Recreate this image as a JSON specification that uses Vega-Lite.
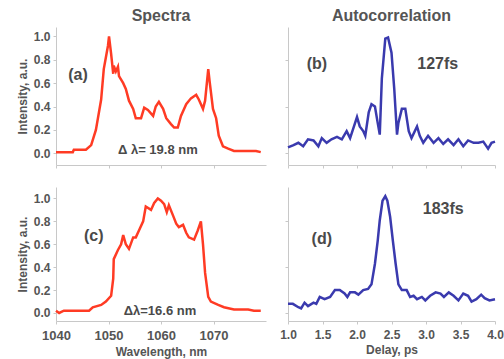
{
  "$schema": "https://vega.github.io/schema/vega-lite/v6.json",
  "background": "white",
  "padding": {"left": 16, "top": 8, "right": 0, "bottom": 2},
  "datasets": {
    "a": [
      {"w":1040.0,"i":0.01},{"w":1043.2,"i":0.01},{"w":1043.4,"i":0.03},{"w":1045.7,"i":0.03},{"w":1046.7,"i":0.07},{"w":1047.6,"i":0.2},{"w":1048.6,"i":0.46},{"w":1049.1,"i":0.72},{"w":1049.9,"i":0.92},{"w":1050.1,"i":1.0},{"w":1050.5,"i":0.85},{"w":1050.9,"i":0.68},{"w":1051.0,"i":0.75},{"w":1051.4,"i":0.70},{"w":1051.8,"i":0.74},{"w":1052.0,"i":0.66},{"w":1052.8,"i":0.60},{"w":1053.3,"i":0.55},{"w":1053.9,"i":0.45},{"w":1054.7,"i":0.38},{"w":1055.2,"i":0.30},{"w":1056.2,"i":0.30},{"w":1056.8,"i":0.39},{"w":1057.5,"i":0.37},{"w":1058.5,"i":0.32},{"w":1059.0,"i":0.40},{"w":1059.6,"i":0.44},{"w":1060.4,"i":0.38},{"w":1061.0,"i":0.30},{"w":1061.9,"i":0.25},{"w":1062.5,"i":0.22},{"w":1063.2,"i":0.22},{"w":1063.8,"i":0.32},{"w":1064.8,"i":0.42},{"w":1065.7,"i":0.47},{"w":1066.7,"i":0.50},{"w":1067.2,"i":0.46},{"w":1068.0,"i":0.38},{"w":1068.4,"i":0.45},{"w":1069.0,"i":0.72},{"w":1069.3,"i":0.60},{"w":1069.9,"i":0.38},{"w":1070.5,"i":0.30},{"w":1071.0,"i":0.15},{"w":1071.8,"i":0.06},{"w":1072.8,"i":0.04},{"w":1073.9,"i":0.02},{"w":1078.1,"i":0.02},{"w":1079.0,"i":0.01}
    ],
    "c": [
      {"w":1040.0,"i":0.02},{"w":1040.6,"i":0.0},{"w":1041.5,"i":0.02},{"w":1046.3,"i":0.02},{"w":1047.0,"i":0.05},{"w":1048.6,"i":0.07},{"w":1049.5,"i":0.10},{"w":1050.5,"i":0.15},{"w":1050.9,"i":0.3},{"w":1051.0,"i":0.47},{"w":1051.8,"i":0.55},{"w":1052.4,"i":0.6},{"w":1052.8,"i":0.68},{"w":1053.3,"i":0.6},{"w":1053.9,"i":0.56},{"w":1054.7,"i":0.66},{"w":1055.2,"i":0.66},{"w":1055.8,"i":0.72},{"w":1056.6,"i":0.8},{"w":1057.1,"i":0.93},{"w":1058.1,"i":0.9},{"w":1058.7,"i":0.96},{"w":1059.4,"i":1.0},{"w":1060.0,"i":0.98},{"w":1060.6,"i":0.95},{"w":1061.1,"i":0.88},{"w":1061.5,"i":0.94},{"w":1062.3,"i":0.85},{"w":1062.9,"i":0.78},{"w":1063.4,"i":0.75},{"w":1064.2,"i":0.77},{"w":1064.8,"i":0.7},{"w":1065.3,"i":0.66},{"w":1066.3,"i":0.64},{"w":1067.0,"i":0.72},{"w":1067.6,"i":0.80},{"w":1068.0,"i":0.6},{"w":1068.4,"i":0.35},{"w":1069.0,"i":0.14},{"w":1069.5,"i":0.10},{"w":1070.9,"i":0.07},{"w":1072.0,"i":0.05},{"w":1073.9,"i":0.03},{"w":1076.6,"i":0.03},{"w":1077.7,"i":0.02},{"w":1079.0,"i":0.02}
    ],
    "b": [
      {"t":1.0,"i":0.05},{"t":1.08,"i":0.07},{"t":1.15,"i":0.09},{"t":1.22,"i":0.06},{"t":1.29,"i":0.12},{"t":1.37,"i":0.11},{"t":1.44,"i":0.06},{"t":1.49,"i":0.13},{"t":1.56,"i":0.09},{"t":1.63,"i":0.12},{"t":1.71,"i":0.14},{"t":1.78,"i":0.12},{"t":1.85,"i":0.19},{"t":1.90,"i":0.13},{"t":1.95,"i":0.22},{"t":2.0,"i":0.31},{"t":2.04,"i":0.23},{"t":2.09,"i":0.19},{"t":2.12,"i":0.15},{"t":2.17,"i":0.35},{"t":2.21,"i":0.42},{"t":2.26,"i":0.4},{"t":2.30,"i":0.26},{"t":2.33,"i":0.16},{"t":2.36,"i":0.64},{"t":2.41,"i":0.98},{"t":2.45,"i":0.99},{"t":2.50,"i":0.86},{"t":2.54,"i":0.55},{"t":2.58,"i":0.16},{"t":2.60,"i":0.26},{"t":2.65,"i":0.38},{"t":2.70,"i":0.38},{"t":2.75,"i":0.19},{"t":2.79,"i":0.13},{"t":2.87,"i":0.23},{"t":2.91,"i":0.15},{"t":2.96,"i":0.09},{"t":3.03,"i":0.15},{"t":3.11,"i":0.09},{"t":3.18,"i":0.13},{"t":3.25,"i":0.08},{"t":3.32,"i":0.12},{"t":3.40,"i":0.07},{"t":3.47,"i":0.12},{"t":3.54,"i":0.06},{"t":3.61,"i":0.11},{"t":3.69,"i":0.09},{"t":3.76,"i":0.09},{"t":3.83,"i":0.10},{"t":3.90,"i":0.04},{"t":3.95,"i":0.09},{"t":4.0,"i":0.10}
    ],
    "d": [
      {"t":1.0,"i":0.08},{"t":1.07,"i":0.08},{"t":1.15,"i":0.05},{"t":1.19,"i":0.04},{"t":1.24,"i":0.09},{"t":1.29,"i":0.06},{"t":1.37,"i":0.09},{"t":1.41,"i":0.08},{"t":1.46,"i":0.14},{"t":1.53,"i":0.12},{"t":1.61,"i":0.14},{"t":1.68,"i":0.20},{"t":1.75,"i":0.20},{"t":1.82,"i":0.17},{"t":1.86,"i":0.14},{"t":1.90,"i":0.18},{"t":1.97,"i":0.18},{"t":2.02,"i":0.16},{"t":2.09,"i":0.20},{"t":2.16,"i":0.21},{"t":2.21,"i":0.25},{"t":2.26,"i":0.43},{"t":2.30,"i":0.63},{"t":2.33,"i":0.81},{"t":2.37,"i":0.98},{"t":2.41,"i":1.02},{"t":2.44,"i":0.98},{"t":2.48,"i":0.84},{"t":2.52,"i":0.63},{"t":2.56,"i":0.43},{"t":2.60,"i":0.25},{"t":2.65,"i":0.20},{"t":2.72,"i":0.20},{"t":2.77,"i":0.14},{"t":2.82,"i":0.15},{"t":2.87,"i":0.12},{"t":2.94,"i":0.14},{"t":2.99,"i":0.11},{"t":3.06,"i":0.15},{"t":3.14,"i":0.18},{"t":3.21,"i":0.17},{"t":3.26,"i":0.14},{"t":3.33,"i":0.18},{"t":3.40,"i":0.15},{"t":3.47,"i":0.11},{"t":3.54,"i":0.17},{"t":3.61,"i":0.15},{"t":3.66,"i":0.10},{"t":3.73,"i":0.12},{"t":3.80,"i":0.16},{"t":3.85,"i":0.13},{"t":3.92,"i":0.11},{"t":4.0,"i":0.12}
    ],
    "la": [{"w":1044.2,"i":0.67,"s":"(a)","big":1},{"w":1059.4,"i":0.03,"s":"Δ λ= 19.8 nm","big":0}],
    "lb": [{"t":1.42,"i":0.76,"s":"(b)","big":1},{"t":3.17,"i":0.76,"s":"127fs","big":1}],
    "lc": [{"w":1047.2,"i":0.67,"s":"(c)","big":1},{"w":1059.8,"i":0.02,"s":"Δλ=16.6  nm","big":0}],
    "ld": [{"t":1.49,"i":0.65,"s":"(d)","big":1},{"t":3.25,"i":0.91,"s":"183fs","big":1}]
  },
  "config": {
    "view": {"stroke": null},
    "font": "Liberation Sans",
    "axis": {
      "grid": false,
      "labelFont": "Liberation Sans",
      "labelFontWeight": "bold",
      "labelFontSize": 12,
      "labelColor": "#555555",
      "labelOverlap": false,
      "titleFont": "Liberation Sans",
      "titleFontWeight": "bold",
      "titleFontSize": 12,
      "titleColor": "#555555",
      "domainColor": "#c8c8c8",
      "tickColor": "#c8c8c8",
      "tickSize": 3,
      "labelPadding": 3
    },
    "axisX": {"labelPadding": 5, "titlePadding": 4},
    "title": {"font": "Liberation Sans", "fontSize": 16, "fontWeight": "bold", "color": "#555555", "offset": 3}
  },
  "columns": 2,
  "spacing": {"row": 18, "column": 13},
  "concat": [
    {
      "title": "Spectra",
      "width": 210, "height": 138,
      "encoding": {
        "x": {"field": "w", "type": "quantitative", "scale": {"domain": [1040, 1080], "nice": false}, "axis": {"values": [1040, 1050, 1060, 1070], "labels": false, "title": null}},
        "y": {"field": "i", "type": "quantitative", "scale": {"domain": [-0.1, 1.08], "nice": false, "zero": false}, "axis": {"values": [0, 0.2, 0.4, 0.6, 0.8, 1.0], "format": ".1f", "title": "Intensity, a.u.", "labelOverlap": false, "labelBound": false}}
      },
      "layer": [
        {
          "data": {"name": "a"},
          "mark": {"type": "line", "color": "#ff3b24", "strokeWidth": 2.5}
        },
        {
          "data": {"name": "la"},
          "mark": {"type": "text", "fontWeight": "bold", "color": "#4a4a4a"},
          "encoding": {
            "text": {"field": "s"},
            "size": {"field": "big", "type": "nominal", "scale": {"domain": [0, 1], "range": [13, 16]}, "legend": null}
          }
        }
      ]
    },
    {
      "title": "Autocorrelation",
      "width": 207, "height": 138,
      "encoding": {
        "x": {"field": "t", "type": "quantitative", "scale": {"domain": [1, 4], "nice": false}, "axis": {"values": [1, 1.5, 2, 2.5, 3, 3.5, 4], "labels": false, "title": null}},
        "y": {"field": "i", "type": "quantitative", "scale": {"domain": [-0.1, 1.08], "nice": false, "zero": false}, "axis": {"values": [0, 0.4, 0.8], "labels": false, "title": null}}
      },
      "layer": [
        {
          "data": {"name": "b"},
          "mark": {"type": "line", "color": "#3a3aae", "strokeWidth": 2.5}
        },
        {
          "data": {"name": "lb"},
          "mark": {"type": "text", "fontWeight": "bold", "color": "#4a4a4a"},
          "encoding": {
            "text": {"field": "s"},
            "size": {"field": "big", "type": "nominal", "scale": {"domain": [0, 1], "range": [13, 16]}, "legend": null}
          }
        }
      ]
    },
    {
      "width": 210, "height": 134,
      "encoding": {
        "x": {"field": "w", "type": "quantitative", "scale": {"domain": [1040, 1080], "nice": false}, "axis": {"values": [1040, 1050, 1060, 1070], "format": "d", "title": "Wavelength, nm", "labelFontSize": 13, "labelOverlap": false, "labelFlush": false}},
        "y": {"field": "i", "type": "quantitative", "scale": {"domain": [-0.07, 1.1], "nice": false, "zero": false}, "axis": {"values": [0, 0.2, 0.4, 0.6, 0.8, 1.0], "format": ".1f", "title": "Intensity, a.u.", "labelOverlap": false, "labelBound": false}}
      },
      "layer": [
        {
          "data": {"name": "c"},
          "mark": {"type": "line", "color": "#ff3b24", "strokeWidth": 2.5}
        },
        {
          "data": {"name": "lc"},
          "mark": {"type": "text", "fontWeight": "bold", "color": "#4a4a4a"},
          "encoding": {
            "text": {"field": "s"},
            "size": {"field": "big", "type": "nominal", "scale": {"domain": [0, 1], "range": [13, 16]}, "legend": null}
          }
        }
      ]
    },
    {
      "width": 207, "height": 134,
      "encoding": {
        "x": {"field": "t", "type": "quantitative", "scale": {"domain": [1, 4], "nice": false}, "axis": {"values": [1, 1.5, 2, 2.5, 3, 3.5, 4], "format": ".1f", "title": "Delay, ps", "labelFontSize": 12, "labelOverlap": false, "labelFlush": false}},
        "y": {"field": "i", "type": "quantitative", "scale": {"domain": [-0.07, 1.1], "nice": false, "zero": false}, "axis": {"values": [0, 0.4, 0.8], "labels": false, "title": null}}
      },
      "layer": [
        {
          "data": {"name": "d"},
          "mark": {"type": "line", "color": "#3a3aae", "strokeWidth": 2.5}
        },
        {
          "data": {"name": "ld"},
          "mark": {"type": "text", "fontWeight": "bold", "color": "#4a4a4a"},
          "encoding": {
            "text": {"field": "s"},
            "size": {"field": "big", "type": "nominal", "scale": {"domain": [0, 1], "range": [13, 16]}, "legend": null}
          }
        }
      ]
    }
  ]
}
